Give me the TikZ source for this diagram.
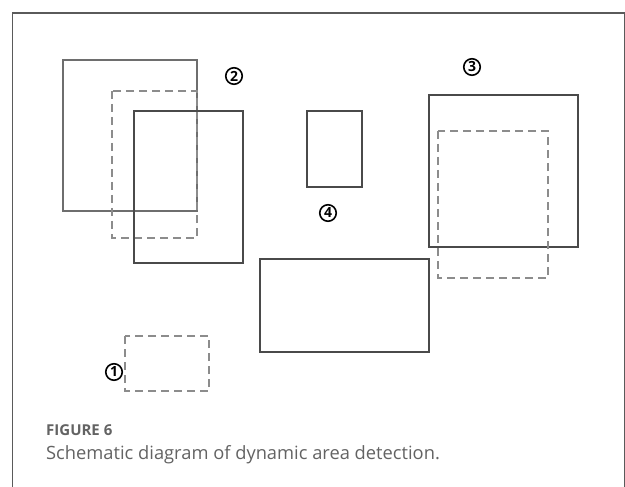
\documentclass[tikz,border=0pt]{standalone}
\usepackage{fontspec}
\setmainfont{Open Sans}
\usepackage{tikz}

\definecolor{framegray}{HTML}{5A5A5A}
\definecolor{boxgray}{HTML}{4A4A4A}
\definecolor{oldgray}{HTML}{6E6E6E}
\definecolor{dashgray}{HTML}{8C8C8C}
\definecolor{capgray}{HTML}{636363}

\tikzset{
  solidbox/.style={draw=boxgray, line width=1.3pt},
  oldbox/.style={draw=oldgray, line width=1.2pt},
  dashbox/.style={draw=dashgray, line width=1.3pt, dash pattern=on 8pt off 5pt},
  tag/.style={circle, draw=black, line width=1.6pt, inner sep=0pt, minimum size=16.5pt,
              font=\fontsize{14}{14}\selectfont\bfseries}
}

\begin{document}
\begin{tikzpicture}[x=1pt, y=-1pt]
            \useasboundingbox (0,0) rectangle (625,487);
            \fill[white] (0,0) rectangle (625,487);
            \coordinate (F1) at (12.3,487);
            \coordinate (F2) at (12.3,13);
            \coordinate (F3) at (624.3,13);
            \coordinate (F4) at (624.3,487);
            \draw[framegray, line width=1.1pt] (F1) -- (F2) -- (F3) -- (F4);
            \coordinate (A1) at (63,60);    \coordinate (A2) at (197,211);
            \coordinate (B1) at (112,91);   \coordinate (B2) at (197,238);
            \coordinate (C1) at (134,111);  \coordinate (C2) at (243,263);
            \coordinate (D1) at (307,111);  \coordinate (D2) at (362,187);
            \coordinate (E1) at (429,95);   \coordinate (E2) at (578,247);
            \coordinate (G1) at (438,131);  \coordinate (G2) at (548,278);
            \coordinate (H1) at (260,259);  \coordinate (H2) at (429,352);
            \coordinate (K1) at (125,336);  \coordinate (K2) at (209,391);
            \draw[oldbox] (A1) rectangle (A2);
            \draw[dashbox] (B1) rectangle (B2);
            \draw[solidbox] (C1) rectangle (C2);
            \draw[solidbox] (D1) rectangle (D2);
            \draw[solidbox] (E1) rectangle (E2);
            \draw[dashbox] (G1) rectangle (G2);
            \draw[solidbox] (H1) rectangle (H2);
            \draw[dashbox] (K1) rectangle (K2);
            \node[tag] (one) at (114,372) {1};
            \node[tag] (two) at (234,76) {2};
            \node[tag] (three) at (472,67) {3};
            \node[tag] (four) at (328,213) {4};
            \node[anchor=base west, inner sep=0pt, text=capgray,
                  font=\fontsize{15}{18}\selectfont\bfseries] (fig) at (46,435.5) {FIGURE 6};
            \node[anchor=base west, inner sep=0pt, text=capgray,
                  font=\fontsize{18.3}{22}\selectfont] (cap) at (46,459.5)
                  {Schematic diagram of dynamic area detection.};
        \end{tikzpicture}
\end{document}
